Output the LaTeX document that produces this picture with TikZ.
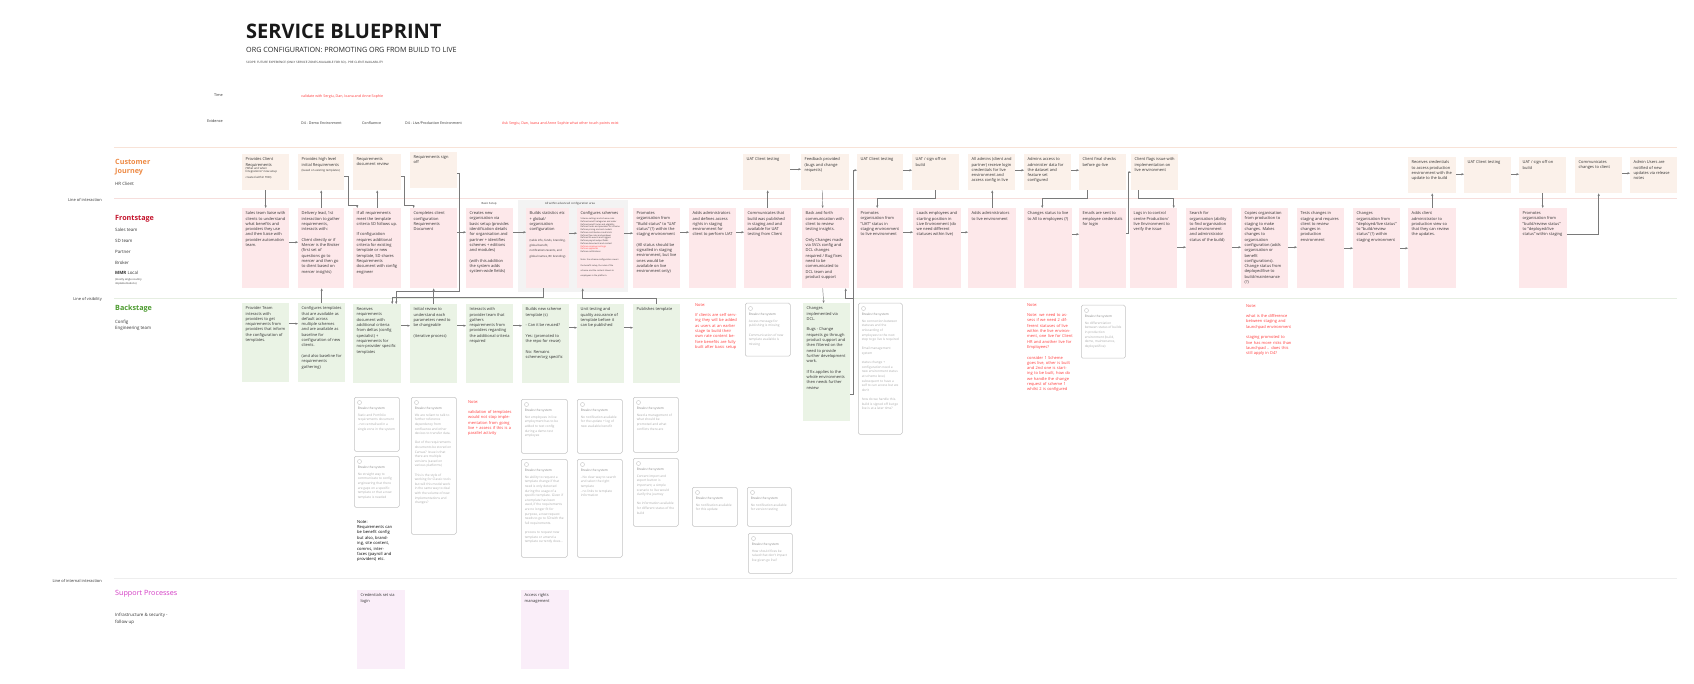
\documentclass[tikz,border=0pt]{standalone}
\usepackage{fontspec}
\setmainfont{Open Sans}
\usetikzlibrary{arrows.meta}
\definecolor{cjc}{HTML}{FBF1EA}
\definecolor{fsc}{HTML}{FDE8EA}
\definecolor{bsc}{HTML}{EAF3E5}
\definecolor{spc}{HTML}{FAEEF9}
\definecolor{sepa}{HTML}{F8E3D8}
\definecolor{sepb}{HTML}{F6DEDC}
\definecolor{sepc}{HTML}{E6EEE2}
\definecolor{sepd}{HTML}{EEEEEE}
\definecolor{cjh}{HTML}{EE8A44}
\definecolor{fsh}{HTML}{C4142C}
\definecolor{bsh}{HTML}{4C9B2F}
\definecolor{sph}{HTML}{D43BC5}
\definecolor{note}{HTML}{FF3B3B}
\definecolor{arrc}{HTML}{7A7A7A}
\definecolor{brkd}{HTML}{C4C4C4}
\definecolor{brkh}{HTML}{8A8A8A}
\definecolor{brkt}{HTML}{ABABAB}
\definecolor{advc}{HTML}{F3F3F3}
\definecolor{txt}{HTML}{333333}
\tikzset{
 card/.style={inner sep=3.5pt, draw=none, text=txt, font=\fontsize{4}{5.3}\selectfont},
 cjbox/.style={card, fill=cjc},
 fsbox/.style={card, fill=fsc},
 bsbox/.style={card, fill=bsc},
 spbox/.style={card, fill=spc},
 brkbox/.style={inner sep=3.5pt, draw=brkd, line width=0.5pt, rounded corners=1.5pt, fill=white, font=\fontsize{3.2}{4.6}\selectfont},
 notebox/.style={inner sep=0pt, text=note, font=\fontsize{4}{5.3}\selectfont, align=left},
 lbl/.style={inner sep=0pt, text=txt, anchor=base west, font=\fontsize{4.4}{6.2}\selectfont, align=left},
 linelbl/.style={inner sep=0pt, text=txt, anchor=base east, font=\fontsize{4}{5}\selectfont},
 head/.style={inner sep=0pt, anchor=base west, font=\fontsize{7.2}{9.4}\selectfont\bfseries, align=left},
 arr/.style={draw=arrc, line width=0.45pt, -{Stealth[length=2.6pt,width=2.2pt]}},
}
\newcommand\bl{\par\vspace{5.3pt}}
\newcommand\bls{\par\vspace{4.6pt}}
\newcommand\smalltxt{\fontsize{2.8}{3.4}\selectfont}
\newcommand\mybox[7]{\node[#2, minimum width=#5pt, minimum height=#6pt, anchor=north west] (#1) at (#3,#4) {\parbox[t][\dimexpr#6pt-7pt\relax][t]{\dimexpr#5pt-7pt\relax}{\raggedright #7}};}
\newcommand\brk[6]{\node[brkbox, minimum width=#4pt, minimum height=#5pt, anchor=north west] (#1) at (#2,#3) {\parbox[t][\dimexpr#5pt-7pt\relax][t]{\dimexpr#4pt-7pt\relax}{\raggedright\vspace*{6pt}{\color{brkh}Breaks the system}\par\vspace{2.5pt}{\color{brkt}#6}}};
\draw[brkd, line width=0.4pt] ([xshift=5.5pt,yshift=-5.5pt]#1.north west) circle (2pt);}
\newcommand\harr[3]{\draw[arr] ([yshift=#3pt]#1.east) -- ([yshift=#3pt]#2.west);}
\begin{document}
\begin{tikzpicture}[x=1pt,y=-1pt]
\useasboundingbox (0,0) rectangle (1694,684);
\fill[white] (0,0) rectangle (1694,684);
% title
\node[inner sep=0pt, anchor=base west, font=\fontsize{20}{22}\selectfont\bfseries, text=black!90] (title) at (246,39) {SERVICE BLUEPRINT};
\node[inner sep=0pt, anchor=base west, font=\fontsize{7.2}{8}\selectfont, text=black!85] (subtitle) at (246,52.5) {ORG CONFIGURATION: PROMOTING ORG FROM BUILD TO LIVE};
\node[inner sep=0pt, anchor=base west, font=\fontsize{3}{3.2}\selectfont, text=black!80] (scope) at (246,64) {SCOPE: FUTURE EXPERIENCE (ONLY SERVICE ZONES AVAILABLE FOR SO) - PRE CLIENT AVAILABILITY};
% time and evidence
\node[inner sep=0pt, anchor=base east, font=\fontsize{3.8}{4}\selectfont, text=txt] (time) at (223,97) {Time};
\node[inner sep=0pt, anchor=base west, font=\fontsize{3.6}{4}\selectfont, text=note] (timenote) at (301,98) {validate with Sergiu, Dan, Ioana and Anne Sophie};
\node[inner sep=0pt, anchor=base east, font=\fontsize{3.8}{4}\selectfont, text=txt] (evid) at (223,123) {Evidence};
\node[inner sep=0pt, anchor=base west, font=\fontsize{3.6}{4}\selectfont, text=txt] (ev1) at (301,125) {D4 - Demo Environment};
\node[inner sep=0pt, anchor=base west, font=\fontsize{3.6}{4}\selectfont, text=txt] (ev2) at (362,125) {Confluence};
\node[inner sep=0pt, anchor=base west, font=\fontsize{3.6}{4}\selectfont, text=txt] (ev3) at (405,125) {D4 - Live/Production Environment};
\node[inner sep=0pt, anchor=base west, font=\fontsize{3.6}{4}\selectfont, text=note] (ev4) at (502,125) {Ask Sergiu, Dan, Ioana and Anne Sophie what other touch points exist};
% separator lines
\draw[sepa, line width=0.7pt] (114,147) -- (1677,147);
\draw[sepb, line width=0.7pt] (114,198) -- (1677,198);
\draw[sepc, line width=0.7pt] (114,298) -- (1677,298);
\draw[sepd, line width=0.7pt] (114,578) -- (1677,578);
% left labels (base anchor = last line)
\node[head, text=cjh] (hcj) at (115,174) {Customer\\Journey};
\node[lbl] (lhr) at (115,185.5) {HR Client};
\node[linelbl] (loi) at (102,202) {Line of interaction};
\node[head, text=fsh] (hfs) at (115,220.5) {Frontstage};
\node[lbl] (l1) at (115,232) {Sales team};
\node[lbl] (l2) at (115,243) {SD team};
\node[lbl] (l3) at (115,254) {Partner};
\node[lbl] (l4) at (115,265) {Broker};
\node[lbl] (l5) at (115,275) {\textbf{MMR} Local};
\node[lbl, font=\fontsize{2.6}{3.6}\selectfont] (l6) at (115,284.5) {(mostly single country\\implementations)};
\node[linelbl] (lov) at (102,300.5) {Line of visibility};
\node[head, text=bsh] (hbs) at (115,310.5) {Backstage};
\node[lbl] (l7) at (115,329.5) {Config\\Engineering team};
\node[linelbl] (lii) at (102,582) {Line of internal interaction};
\node[head, text=sph, font=\fontsize{7.2}{9}\selectfont] (hsp) at (115,595.5) {Support Processes};
\node[lbl, font=\fontsize{4.4}{7.2}\selectfont] (l8) at (115,623.5) {Infrastructure \& security -\\follow up};
% advanced configuration area
\fill[advc] (518,200) rectangle (628,292);
\node[inner sep=0pt, font=\fontsize{2.8}{3}\selectfont, text=txt] (basic) at (489,204) {Basic Setup};
\node[inner sep=0pt, font=\fontsize{2.8}{3}\selectfont, text=txt] (adv) at (570,204) {All within advanced configuration area};
% customer journey
\mybox{CJ1}{cjbox}{242}{154}{47}{36}{Provides Client Requirements\par{\smalltxt (What and when\\ Integrations? new setup\\ created within TDD)}}
\mybox{CJ2}{cjbox}{298}{154}{46}{36}{Provides high level initial Requirements\par{\smalltxt (based on existing templates)}}
\mybox{CJ3}{cjbox}{353}{154}{48}{36}{Requirements document review}
\mybox{CJ4}{cjbox}{410}{152}{47}{36}{Requirements sign off}
\mybox{CJ5}{cjbox}{743}{154}{47}{36}{UAT Client testing}
\mybox{CJ6}{cjbox}{801}{154}{48}{36}{Feedback provided (bugs and change requests)}
\mybox{CJ7}{cjbox}{857}{154}{46}{36}{UAT Client testing}
\mybox{CJ8}{cjbox}{912}{154}{47}{36}{UAT / sign off on build}
\mybox{CJ9}{cjbox}{968}{154}{47}{36}{All admins (client and partner) receive login credentials for live environment and access config in live}
\mybox{CJ10}{cjbox}{1024}{154}{47}{36}{Admins access to administer data for the dataset and feature set configured}
\mybox{CJ11}{cjbox}{1079}{154}{47}{36}{Client final checks before go-live}
\mybox{CJ12}{cjbox}{1131}{154}{47}{36}{Client flags issue with implementation on live environment}
\mybox{CJ13}{cjbox}{1408}{157}{48}{36}{Receives credentials to access production environment with the update to the build}
\mybox{CJ14}{cjbox}{1464}{157}{47}{36}{UAT Client testing}
\mybox{CJ15}{cjbox}{1519}{157}{47}{36}{UAT / sign off on build}
\mybox{CJ16}{cjbox}{1575}{157}{47}{36}{Communicates changes to client}
\mybox{CJ17}{cjbox}{1630}{157}{47}{36}{Admin Users are notified of new updates via release notes}
% frontstage
\mybox{FS1}{fsbox}{242}{208}{47}{80}{Sales team liaise with clients to understand what benefits and providers they use and then liaise with provider automation team.}
\mybox{FS2}{fsbox}{298}{208}{46}{80}{Delivery lead, 1st interaction to gather requirements, interacts with:\bl Client directly or if Mercer is the Broker (first set of questions go to mercer and then go to client based on mercer insights)}
\mybox{FS3}{fsbox}{353}{208}{48}{80}{If all requirements meet the template criteria SD follows up.\bl If configuration requires additional criteria for existing template or new template, SD shares Requirements document with config engineer}
\mybox{FS4}{fsbox}{410}{208}{47}{80}{Completes client configuration Requirements Document}
\mybox{FS5}{fsbox}{466}{208}{47}{80}{Creates new organisation via basic setup (provides identification details for organisation and partner + identifies schemes + editions and modules)\bl (with this addition the system adds system-wide fields)}
\mybox{FS6}{fsbox}{526}{208}{43}{80}{Builds statistics etc + global/ organisation configuration\bl{\smalltxt (table info, funds, branding, global benefit, notifications/events, and global names, BC branding)}}
\mybox{FS7}{fsbox}{577}{208}{47}{80}{Configures schemes\par\vspace{2pt}{\fontsize{2.1}{2.75}\selectfont Scheme settings and scheme rules\\ Defines benefit categories and order\\ Defines benefit rules and eligibility\\ Defines funds and providers for scheme\\ Defines pricing and cost models\\ Defines contributions and limits\\ Defines flex rules and windows\\ Defines life events and triggers\\ Defines payroll output fields\\ Defines documents and content\\ \textcolor{note}{Defines employer settings}\\ \textcolor{note}{Defines approvals}\\ Defines notifications\par\vspace{3pt} Note: the scheme configuration covers the benefit setup, the rules of the scheme and the content shown to employees in the platform.}}
\mybox{FS8}{fsbox}{633}{208}{47}{80}{Promotes organisation from "Build status" to "UAT status" (?) within the staging environment\bl (All status should be signalled in staging environment, but live ones would be available on live environment only)}
\mybox{FS9}{fsbox}{689}{208}{47}{80}{Adds administrators and defines access rights in staging environment for client to perform UAT}
\mybox{FS10}{fsbox}{744}{208}{47}{80}{Communicates that build was published in staging and and available for UAT testing from Client}
\mybox{FS11}{fsbox}{802}{208}{47}{80}{Back and forth communication with client to review testing insights.\bl Only Changes made via SVL's config and DCL changes required / Bug fixes need to be communicated to DCL team and product support}
\mybox{FS12}{fsbox}{857}{208}{46}{80}{Promotes organisation from "UAT" status in staging environment to live environment}
\mybox{FS13}{fsbox}{913}{208}{48}{80}{Loads employees and starting position in Live Environment (do we need different statuses within live)}
\mybox{FS14}{fsbox}{968}{208}{48}{80}{Adds administrators to live environment}
\mybox{FS15}{fsbox}{1024}{208}{48}{80}{Changes status to live to All to employees (?)}
\mybox{FS16}{fsbox}{1079}{208}{47}{80}{Emails are sent to employee credentials for login}
\mybox{FS17}{fsbox}{1130}{208}{47}{80}{Logs in to control centre Production/ live Environment to verify the issue}
\mybox{FS18}{fsbox}{1186}{208}{46}{80}{Search for organisation (ability to find organisation and environment and administrator status of the build)}
\mybox{FS19}{fsbox}{1241}{208}{47}{80}{Copies organisation from production to staging to make changes. Makes changes to organisation configuration (adds organisation or benefit configurations). Change status from deployed/live to build/maintenance (?)}
\mybox{FS20}{fsbox}{1297}{208}{47}{80}{Tests changes in staging and requires client to review changes in production environment}
\mybox{FS21}{fsbox}{1353}{208}{47}{80}{Changes organisation from "deployed/live status" to "build/review status" (?) within staging environment}
\mybox{FS22}{fsbox}{1408}{208}{48}{80}{Adds client administrator to production view so that they can review the updates.}
\mybox{FS23}{fsbox}{1519}{208}{48}{80}{Promotes organisation from "build/review status" to "deployed/live status" within staging}
% backstage
\mybox{BS1}{bsbox}{242}{303}{47}{79}{Provider Team interacts with providers to get requirements from providers that inform the configuration of templates.}
\mybox{BS2}{bsbox}{298}{303}{47}{79}{Configures templates that are available as default across multiple schemes and are available as baseline for configuration of new clients.\bl (and also baseline for requirements gathering)}
\mybox{BS3}{bsbox}{353}{304}{48}{79}{Receives requirements document with additional criteria from deltas (config specialist) + requirements for non-provider specific templates}
\mybox{BS4}{bsbox}{410}{304}{47}{79}{Initial review to understand each parameters need to be changeable\bl (iterative process)}
\mybox{BS5}{bsbox}{466}{304}{47}{79}{Interacts with provider team that gathers requirements from providers regarding the additional criteria required}
\mybox{BS6}{bsbox}{522}{304}{47}{79}{Builds new scheme template (s)\bl - Can it be reused?\bl Yes: (promoted to the repo for reuse)\bl No: Remains scheme/org specific}
\mybox{BS7}{bsbox}{577}{304}{47}{79}{Unit testing and quality assurance of template before it can be published}
\mybox{BS8}{bsbox}{633}{304}{47}{79}{Publishes template}
\mybox{BS9}{bsbox}{803}{303}{47}{118}{Changes implemented via DCL.\bl Bugs - Change requests go through product support and then filtered on the need to provide further development work.\bl If fix applies to the whole environments then needs further review}
% support
\mybox{SP1}{spbox}{357}{590}{48}{79}{Credentials set via login}
\mybox{SP2}{spbox}{521}{590}{48}{79}{Access rights management}
% breaks the system cards
\brk{K1}{745}{303}{45}{53}{Access message for publishing is missing\bls Communication of new template available is missing}
\brk{K2}{858}{303}{44}{131}{No connection between statuses and the onboarding of employees to the next step to go live is required\bls Email management system\bls status change + configuration need a new environment status at scheme level, subsequent to have a self to can access but we don't\bls how do we handle this. build is signed off but go live is at a later time?}
\brk{K3}{1081}{305}{44}{53}{No differentiation between status of builds in production environment (build, demo, maintenance, deployed/live)}
\brk{A1}{354}{397}{45}{54}{Static and Portfolio requirements document - not centralised in a single zone in the system}
\brk{A2}{354}{456}{45}{51}{No straight way to communicate to config engineering that there are gaps on a specific template or that a new template is needed}
\brk{B1}{411}{397}{45}{137}{We are reliant to talk to further reference dependency from confluence and other devices to transfer data.\bls Out of the requirements documents be stored on Canvas? Issue is that there are multiple versions (saved on various platforms)\bls This is the style of working for Classic tools but will this model work in the same way to deal with the volume of new implementations and changes?}
\brk{C1}{521}{399}{46}{54}{Not employees in live employment has to be added to test config during a demo test employee}
\brk{C2}{521}{459}{46}{98}{No ability to request a template change if that need is only detected during the usage of a specific template. Given if a template has been used, if the requirements are no longer fit for purpose, a new request needs to go to SD with the full requirements.\bls process to request new template or amend a template currently does...}
\brk{D1}{577}{399}{45}{54}{No notification available for the update + log of new available benefit}
\brk{D2}{577}{459}{45}{98}{- No clear way to search and select the right template\\ - no links to template information}
\brk{E1}{633}{397}{45}{55}{Need a management of what should be promoted and what conflicts there are}
\brk{E2}{633}{458}{45}{68}{Content import and export button is important; a simple scenario to live would clarify the journey\bls No information available for different status of the build}
\brk{F1}{692}{487}{45}{39}{No notification available for this update}
\brk{G1}{747}{487}{44}{39}{No notification available for version testing}
\brk{H1}{748}{533}{44}{40}{How should fixes be raised that don't impact live given go live?}
% notes
\node[notebox, text width=42pt, anchor=north west] (N1) at (695,303) {Note:\\[5.3pt]If clients are self serving they will be added as users at an earlier stage to build their own rate content before benefits are fully built after basic setup};
\node[notebox, text width=46pt, anchor=north west] (N2) at (1027,303) {Note:\\[5.3pt]Note: we need to assess if we need 2 different statuses of live within the live environment, one live for Client HR and another live for Employees?\\[5.3pt]consider 1 Scheme goes live, other is built and 2nd one is starting to be built, how do we handle the change request of scheme 1 whilst 2 is configured};
\node[notebox, text width=46pt, anchor=north west] (N3) at (1246,304) {Note:\\[5.3pt]what is the difference between staging and launchpad environment\\[5.3pt]staging promoted to live has more risks than launchpad .. does this still apply in D4?};
\node[notebox, text width=46pt, anchor=north west] (N4) at (468,400) {Note:\\[5.3pt]validation of templates would not stop implementation from going live + assess if this is a parallel activity};
\node[notebox, text=black, text width=38pt, anchor=north west, font=\fontsize{4.1}{5.4}\selectfont] (N5) at (357,520) {Note:\\Requirements can be benefit config but also, branding, site content, comms, interfaces (payroll and providers) etc.};
% connectors
\draw[arr] (CJ1.south) -- (CJ1.south |- FS1.north);
\draw[arr] (FS2.north) -- (FS2.north |- CJ2.south);
\draw[arr] ([yshift=-4pt]CJ2.east) -- ++(4,0) |- ([xshift=-20pt,yshift=3pt]FS3.north) -- ([xshift=-20pt]FS3.north);
\draw[arr] (FS3.north) -- (FS3.north |- CJ3.south);
\draw[arr] ([yshift=-4pt]CJ3.east) -- ++(3,0) |- ([xshift=-20pt,yshift=3pt]FS4.north) -- ([xshift=-20pt]FS4.north);
\draw[arr] ([yshift=-3pt]CJ4.east) -- ++(2,0) |- ([xshift=19pt,yshift=13pt]BS3.north) -- ([xshift=19pt]BS3.north);
\draw[arr] ([xshift=-4pt]FS6.south) |- ([xshift=15pt,yshift=7pt]BS3.north) -- ([xshift=15pt]BS3.north);
\draw[arr] (BS2.north) -- (BS2.north |- FS2.south);
\draw[arr] (BS4.north) -- (BS4.north |- FS4.south);
\draw[arr] (BS8.north) |- ([xshift=-18pt,yshift=-10pt]FS7.south) -- ([xshift=-18pt]FS7.south);
\harr{FS1}{FS2}{6}
\harr{FS4}{FS5}{16}
\harr{FS5}{FS6}{16}
\harr{FS6}{FS7}{15}
\harr{FS7}{FS8}{15}
\harr{FS8}{FS9}{16}
\harr{FS9}{FS10}{16}
\harr{FS12}{FS13}{16}
\harr{FS13}{FS14}{16}
\harr{FS15}{FS16}{14}
\harr{FS17}{FS18}{1}
\harr{FS18}{FS19}{1}
\harr{FS19}{FS20}{1}
\harr{FS20}{FS21}{0}
\harr{FS21}{FS22}{0}
\harr{BS1}{BS2}{19}
\harr{BS3}{BS4}{18}
\harr{BS4}{BS5}{18}
\harr{BS5}{BS6}{18}
\harr{BS6}{BS7}{16}
\harr{BS7}{BS8}{16}
\harr{CJ5}{CJ6}{3}
\harr{CJ7}{CJ8}{2}
\harr{CJ9}{CJ10}{2}
\harr{CJ10}{CJ11}{2}
\harr{CJ13}{CJ14}{1}
\harr{CJ14}{CJ15}{1}
\harr{CJ16}{CJ17}{2}
\draw[arr] (FS10.north) -- (FS10.north |- CJ5.south);
\draw[arr] ([xshift=-3pt]CJ6.south) -- ([xshift=-3pt]FS11.north);
\draw[arr] ([xshift=-3pt]FS11.south) -- ([xshift=-3pt]BS9.north);
\draw[arr] ([yshift=-32pt]BS9.east) -- ++(3,0) |- ([xshift=20pt,yshift=-10pt]FS11.south) -- ([xshift=20pt]FS11.south);
\draw[arr] ([yshift=-32pt]BS9.east) -- ++(3,0) |- ([yshift=2pt]CJ7.west);
\draw[arr] (CJ8.south) |- ([xshift=-3pt,yshift=10pt]FS12.north) -- ([xshift=-3pt]FS12.north);
\draw[arr] (FS14.north) -- (FS14.north |- CJ9.south);
\draw[arr] ([xshift=-15pt]CJ11.south) |- ([xshift=-6pt,yshift=10pt]FS15.north) -- ([xshift=-6pt]FS15.north);
\draw[arr] ([yshift=15pt]FS16.east) -- ++(2,0) |- (CJ12.west);
\draw[arr] ([xshift=-16pt]CJ12.south) |- ([xshift=20pt,yshift=10pt]FS17.north) -- ([xshift=20pt]FS17.north);
\draw[arr] (FS22.north) -- (FS22.north |- CJ13.south);
\draw[arr] (CJ15.south) -- (CJ15.south |- FS23.north);
\draw[arr] ([yshift=14pt]FS23.east) -| (CJ16.south);
\end{tikzpicture}
\end{document}
